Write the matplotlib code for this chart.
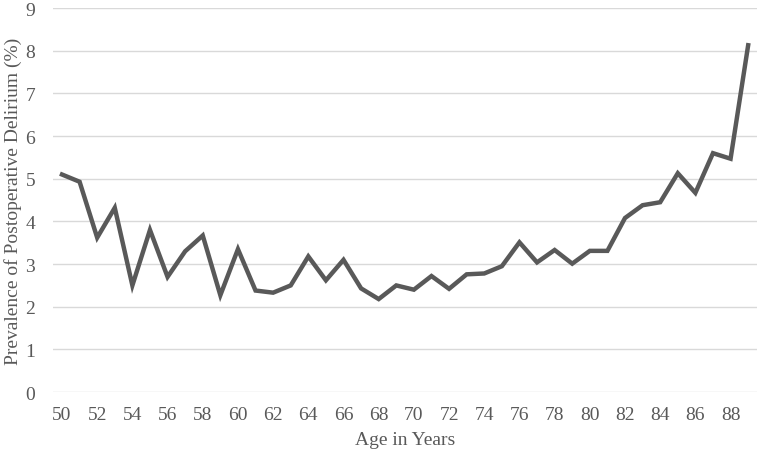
import matplotlib
matplotlib.use("Agg")
import matplotlib.pyplot as plt

ages = list(range(50, 90))
prevalence = [5.10, 4.93, 3.62, 4.32, 2.50, 3.80, 2.70, 3.30, 3.67, 2.27,
              3.35, 2.38, 2.33, 2.50, 3.18, 2.62, 3.10, 2.43, 2.18, 2.50,
              2.40, 2.72, 2.42, 2.76, 2.78, 2.95, 3.51, 3.04, 3.33, 3.01,
              3.31, 3.31, 4.08, 4.38, 4.45, 5.13, 4.67, 5.60, 5.47, 8.13]
xtick_labels = [str(a) for a in range(50, 90, 2)]

plt.rcParams['font.family'] = ['Liberation Serif', 'DejaVu Serif']

fig = plt.figure(figsize=(7.6, 4.56), dpi=100)
ax = fig.add_axes([0.07, 0.138, 0.926, 0.842])

ax.plot(ages, prevalence, color='#595959', linewidth=3.2, solid_joinstyle='miter', zorder=3)

ax.set_xlim(49.5, 89.5)
ax.set_ylim(0, 9)
ax.set_yticks(range(0, 10))
ax.set_xticks(range(50, 90, 2))
ax.set_xticklabels(xtick_labels)
ax.grid(axis='y', color='#d9d9d9', linewidth=1)
ax.set_axisbelow(True)
for s in ax.spines.values():
    s.set_visible(False)
ax.tick_params(length=0, labelsize=14, labelcolor='#595959', pad=10)
ax.tick_params(axis='y', pad=13)

ax.set_xlabel('Age in Years', fontsize=14, color='#595959', labelpad=6)
ax.set_ylabel('Prevalence of Postoperative Delirium (%)', fontsize=14, color='#595959', labelpad=2)

fig.savefig('out.png', dpi=100)
